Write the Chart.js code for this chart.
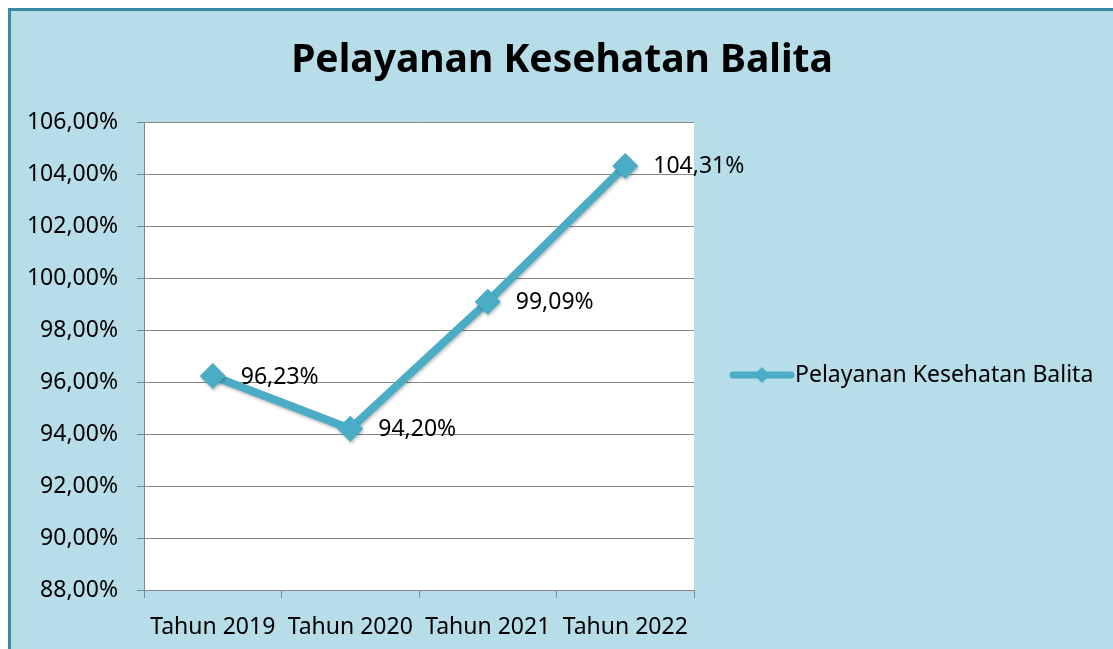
<!DOCTYPE html>
<html>
<head>
<meta charset="utf-8">
<title>Pelayanan Kesehatan Balita</title>
<script src="https://cdn.jsdelivr.net/npm/chart.js@4.4.0/dist/chart.umd.min.js"></script>
<style>
  body { margin: 0; background: #ffffff; overflow: hidden; }
  #wrap { position: relative; width: 1113px; height: 649px; }
  #frame {
    position: absolute; left: 8px; top: 8px; width: 1200px; height: 700px;
    background: #b7dde8; border-left: 3px solid #3a8aa0; border-top: 3px solid #3a8aa0;
  }
  #mycanvas { position: absolute; left: 0; top: 0; }
</style>
</head>
<body>
<div id="wrap">
  <div id="frame"></div>
  <canvas id="mycanvas" width="1113" height="649"></canvas>
</div>
<script>
var title = "Pelayanan Kesehatan Balita";
var series_name = "Pelayanan Kesehatan Balita";
var years = ["Tahun 2019", "Tahun 2020", "Tahun 2021", "Tahun 2022"];
var values = [96.23, 94.20, 99.09, 104.31];
var y_min = 88;
var y_max = 106;
var y_step = 2;

var lineColor = '#4bacc6';
var fontFamily = '"Noto Sans", "DejaVu Sans", sans-serif';
var textSize = 23;

function pct(v) {
	return v.toFixed(2).replace('.', ',') + '%';
}

// white plot area, title, data labels and legend
var decorPlugin = {
	id: 'decor',
	beforeDraw: function(chart) {
		var ctx = chart.ctx;
		var a = chart.chartArea;
		ctx.save();
		ctx.fillStyle = '#ffffff';
		ctx.fillRect(a.left, a.top, a.right - a.left, a.bottom - a.top);
		ctx.restore();
	},
	beforeDatasetsDraw: function(chart) {
		var ctx = chart.ctx;
		ctx.save();
		ctx.shadowColor = 'rgba(0,0,0,0.25)';
		ctx.shadowBlur = 3;
		ctx.shadowOffsetX = 1;
		ctx.shadowOffsetY = 2;
	},
	afterDatasetsDraw: function(chart) {
		chart.ctx.restore();
	},
	afterDraw: function(chart) {
		var ctx = chart.ctx;
		var a = chart.chartArea;
		ctx.save();

		// title
		ctx.fillStyle = '#000000';
		ctx.font = 'bold 39px ' + fontFamily;
		ctx.textAlign = 'center';
		ctx.textBaseline = 'middle';
		ctx.fillText(title, 562, a.top - 61);

		// data labels
		ctx.font = textSize + 'px ' + fontFamily;
		ctx.textAlign = 'left';
		var meta = chart.getDatasetMeta(0);
		meta.data.forEach(function(pt, i) {
			ctx.fillText(pct(values[i]), pt.x + 28, pt.y + 1);
		});

		// legend
		var ly = (a.top + a.bottom) / 2 + 19;
		var lx = a.right + 39;
		ctx.strokeStyle = lineColor;
		ctx.lineWidth = 7;
		ctx.lineCap = 'round';
		ctx.beginPath();
		ctx.moveTo(lx, ly);
		ctx.lineTo(lx + 58, ly);
		ctx.stroke();
		ctx.fillStyle = lineColor;
		ctx.beginPath();
		ctx.moveTo(lx + 29, ly - 8);
		ctx.lineTo(lx + 37, ly);
		ctx.lineTo(lx + 29, ly + 8);
		ctx.lineTo(lx + 21, ly);
		ctx.closePath();
		ctx.fill();
		ctx.fillStyle = '#000000';
		ctx.textBaseline = 'middle';
		ctx.fillText(series_name, lx + 62, ly);

		ctx.restore();
	}
};

var chartdata = {
	labels: years,
	datasets: [
	{
		label: series_name,
		data: values,
		borderColor: lineColor,
		backgroundColor: lineColor,
		borderWidth: 8,
		pointStyle: 'rectRot',
		pointRadius: 13,
		pointHoverRadius: 13,
		pointBackgroundColor: lineColor,
		pointBorderColor: lineColor,
		pointBorderWidth: 0,
		tension: 0
	}
	]
};

var ctx = document.getElementById('mycanvas');

var lineGraph = new Chart(ctx, {
	type: 'line',
	data: chartdata,
	plugins: [decorPlugin],
	options: {
		responsive: false,
		animation: false,
		layout: { padding: { left: 0, top: 122, right: 419, bottom: 0 } },
		plugins: {
			legend: { display: false },
			title: { display: false },
			tooltip: { enabled: false }
		},
		scales: {
			x: {
				offset: true,
				afterFit: function(scale) { scale.height = 59; },
				grid: {
					offset: true,
					drawOnChartArea: false,
					drawTicks: true,
					tickLength: 8,
					color: '#868686'
				},
				border: { color: '#868686', width: 1 },
				ticks: {
					color: '#000000',
					padding: 16,
					maxRotation: 0,
					font: { family: fontFamily, size: textSize }
				}
			},
			y: {
				min: y_min,
				max: y_max,
				afterFit: function(scale) { scale.width = 144; },
				grid: {
					color: '#868686',
					drawTicks: true,
					tickLength: 7
				},
				border: { color: '#868686', width: 1 },
				ticks: {
					stepSize: y_step,
					color: '#000000',
					padding: 19,
					font: { family: fontFamily, size: textSize },
					callback: function(v) { return pct(v); }
				}
			}
		}
	}
});
</script>
</body>
</html>
